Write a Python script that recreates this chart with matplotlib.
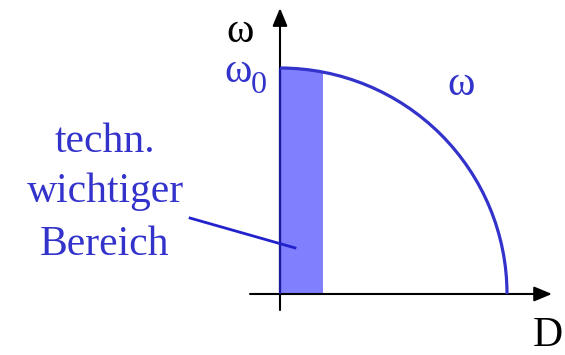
import matplotlib.pyplot as plt
from matplotlib.patches import Arc, Ellipse, Rectangle

# Daten (normiert): Eigenkreisfrequenz und Daempfungsgrad
omega0 = 1.0        # omega bei D = 0
D_max = 1.0         # omega = 0 bei D = 1
D_band = 0.19       # technisch wichtiger Bereich 0 .. D_band
text_lines = ["techn.", "wichtiger", "Bereich"]

blau = "#3333cc"
band_farbe = "#8080ff"
serif = "Liberation Serif"

fig = plt.figure(figsize=(5.65, 3.55), dpi=100)
ax = fig.add_axes([0, 0, 1, 1])
ax.set_xlim(-1.2335, 1.2555)
ax.set_ylim(-0.27, 1.301)
ax.axis("off")

# Band unter der Kurve (an der Ellipse abgeschnitten)
ell = Ellipse((0, 0), 2 * D_max, 2 * omega0, transform=ax.transData)
band = Rectangle((0, 0), D_band, omega0, facecolor=band_farbe, edgecolor="none", zorder=1)
ax.add_patch(band)
band.set_clip_path(ell)

# Achsen mit Pfeilen
pfeil = dict(arrowstyle="-|>,head_length=0.6,head_width=0.25", color="black",
             lw=1.5, mutation_scale=18, shrinkA=0, shrinkB=0)
ax.annotate("", xy=(1.198, 0), xytext=(-0.132, 0), arrowprops=pfeil, zorder=2)
ax.annotate("", xy=(0, 1.265), xytext=(0, -0.071), arrowprops=pfeil, zorder=2)

# linke Kante des Bandes
ax.plot([0, 0], [0, omega0], color="#1a1aa0", lw=1.6, zorder=3, solid_capstyle="butt")

# omega(D) = omega0 * sqrt(1 - D^2)  -> Viertelellipse
kurve = Arc((0, 0), 2 * D_max, 2 * omega0, theta1=0, theta2=90,
            color=blau, lw=2.3, zorder=4)
ax.add_patch(kurve)

# Hinweislinie
ax.plot([-0.396, 0.066], [0.336, 0.204], color="#2222cc", lw=2.0, zorder=5)

# Beschriftungen
ax.text(-0.176, 1.115, "ω", fontsize=30, family=serif, color="black",
        ha="center", va="baseline")
ax.text(-0.185, 0.938, "ω", fontsize=30, family=serif, color=blau,
        ha="center", va="baseline")
ax.text(-0.0925, 0.889, "0", fontsize=23, family=serif, color=blau,
        ha="center", va="baseline")
ax.text(0.797, 0.88, "ω", fontsize=30, family=serif, color=blau,
        ha="center", va="baseline")
ax.text(1.115, -0.23, "D", fontsize=30, family=serif, color="black",
        ha="left", va="baseline")

for zeile, y in zip(text_lines, [0.628, 0.407, 0.173]):
    ax.text(-0.771, y, zeile, fontsize=30, family=serif, color=blau,
            ha="center", va="baseline")

fig.savefig("out.png", dpi=100)
